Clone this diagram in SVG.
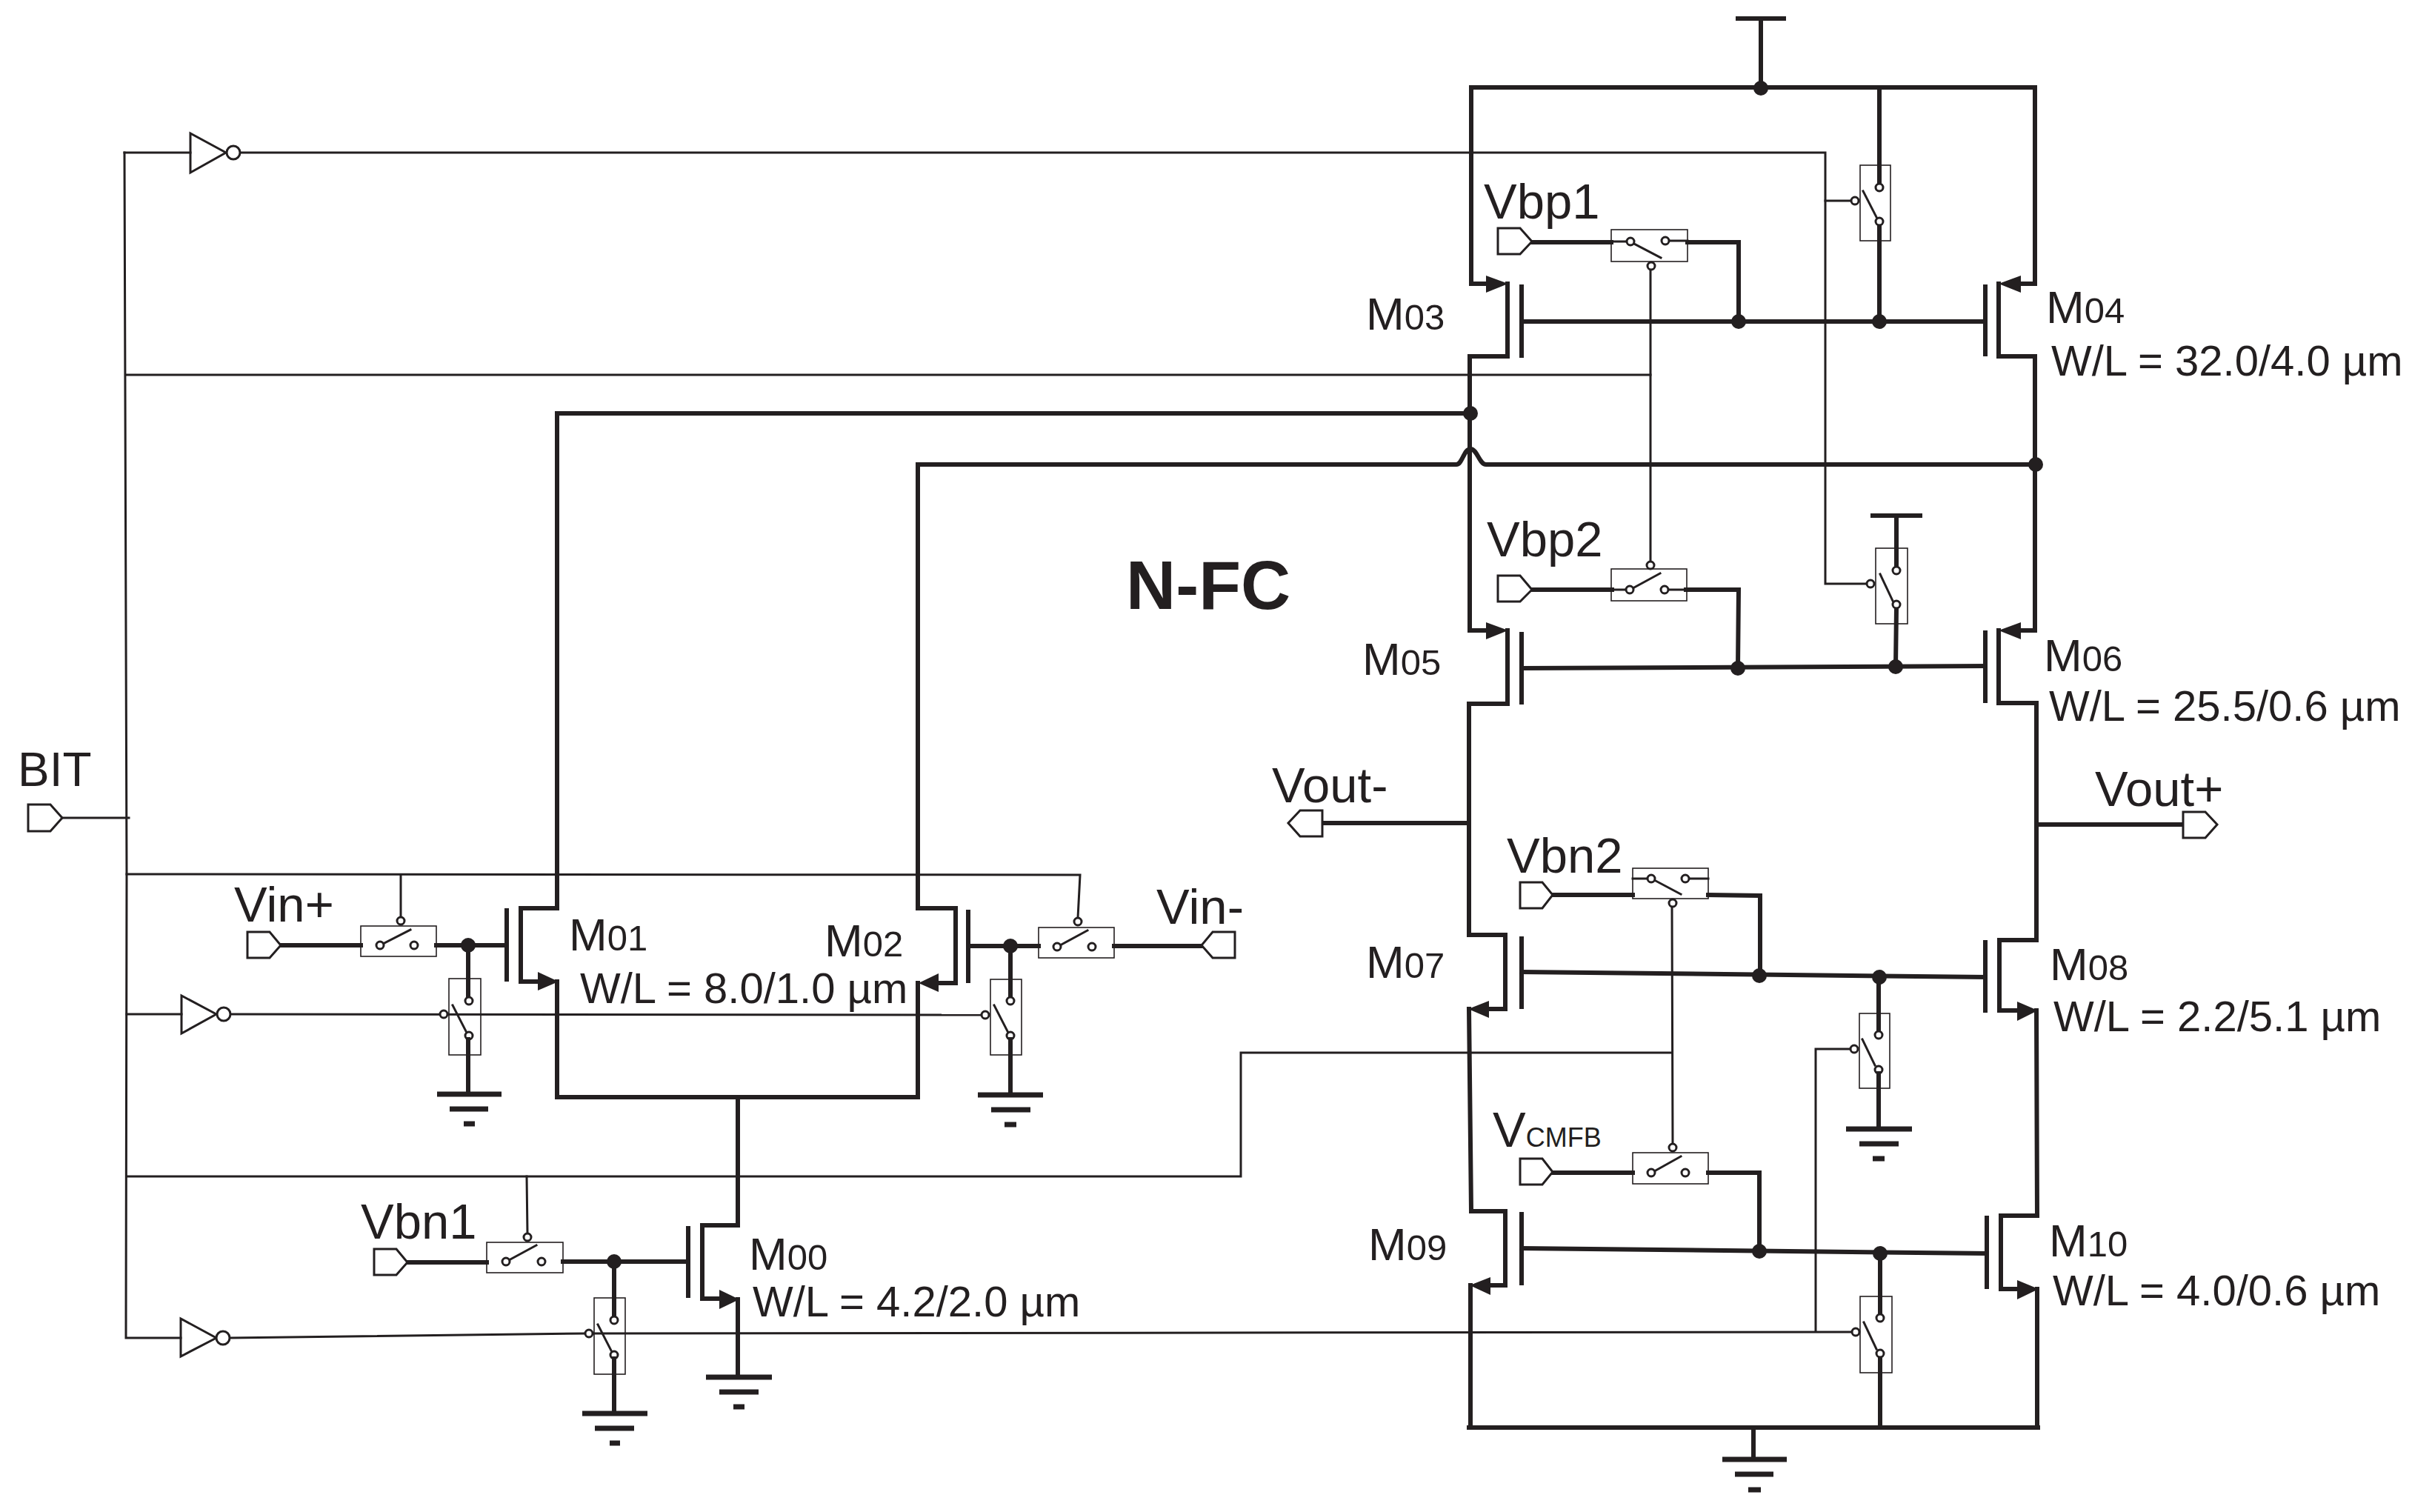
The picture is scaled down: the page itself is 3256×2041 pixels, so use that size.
<svg xmlns="http://www.w3.org/2000/svg" width="3256" height="2041" viewBox="0 0 3256 2041">
<style>
text{font-family:"Liberation Sans",Arial,sans-serif;font-size:62px;fill:#231f20}
.l{font-size:67px}.wl{font-size:58px}.s{font-size:49px}.c{font-size:36px}
.nfc{font-size:93px;font-weight:bold}
.k,.t,.h,.b,.g,.w{fill:none;stroke:#231f20;stroke-linecap:square;stroke-linejoin:miter}
.k{stroke-width:6}.t{stroke-width:3}.h{stroke-width:2}
.b{stroke-width:6;stroke-linecap:butt}
.w{stroke-width:3;fill:#fff}
.g{stroke-width:7;stroke-linecap:butt}
.d{fill:#231f20}
.o{fill:#fff;stroke:#231f20;stroke-width:3}
.a{fill:#231f20}
.x{fill:none;stroke:#231f20;stroke-width:1.6}
</style>
<rect width="3256" height="2041" fill="#fff"/>
<g id="connectors">
<polyline class="t" points="168,206 171,1181 170,1806 244,1806"/>
<polyline class="t" points="168,206 257,206"/>
<polyline class="t" points="84,1104 174,1104"/>
<polyline class="t" points="171,1369 245,1369"/>
<polyline class="t" points="324,206 2464,206 2464,788 2520,788"/>
<polyline class="t" points="2464,271 2499,271"/>
<polyline class="t" points="171,506 2228,506"/>
<polyline class="t" points="2228,364 2228,758"/>
<polyline class="t" points="171,1180 1458,1181 1455,1239"/>
<polyline class="t" points="541,1181 541,1238"/>
<polyline class="t" points="311,1369 1325,1370"/>
<polyline class="t" points="171,1588 1675,1588 1675,1421 2257,1421"/>
<polyline class="t" points="2257,1224 2258,1544"/>
<polyline class="t" points="711,1588 712,1665"/>
<polyline class="t" points="310,1806 790,1800 2500,1798"/>
<polyline class="t" points="2451,1797 2451,1416 2498,1416"/>
<polyline class="k" points="752,1226 752,558 1985,558"/>
<path class="k" d="M1239,1226V627H1966C1974,627 1976,606 1985,606C1994,606 1997,627 2006,627H2748"/>
<polyline class="k" points="1984,481 1984,851"/>
<polyline class="k" points="2747,483 2747,851"/>
<polyline class="k" points="752,1325 752,1481 1239,1481 1239,1327"/>
<polyline class="k" points="996,1481 996,1654"/>
<polyline class="k" points="996,1754 996,1859"/>
<polyline class="k" points="1983,950 1983,1262"/>
<polyline class="k" points="2749,949 2749,1269"/>
<polyline class="k" points="1983,1362 1986,1635"/>
<polyline class="k" points="2749,1364 2750,1641"/>
<polyline class="k" points="1985,1735 1985,1927"/>
<polyline class="k" points="2750,1740 2750,1927"/>
<polyline class="k" points="1986,383 1986,118 2747,118 2747,383"/>
<polyline class="k" points="1983,1927 2751,1927"/>
<polyline class="k" points="1785,1111 1981,1111"/>
<polyline class="k" points="2749,1113 2947,1113"/>
<polyline class="k" points="379,1276 487,1276"/>
<polyline class="k" points="589,1276 684,1276"/>
<polyline class="k" points="632,1276 632,1346"/>
<polyline class="k" points="1307,1277 1402,1277"/>
<polyline class="k" points="1364,1277 1364,1346"/>
<polyline class="k" points="1504,1277 1622,1277"/>
<polyline class="k" points="550,1704 657,1704"/>
<polyline class="k" points="760,1703 929,1703"/>
<polyline class="k" points="829,1703 829,1777"/>
<polyline class="k" points="2068,327 2175,327"/>
<polyline class="k" points="2278,327 2347,327 2347,434"/>
<polyline class="k" points="2054,434 2680,434"/>
<polyline class="k" points="2537,118 2537,248"/>
<polyline class="k" points="2537,304 2537,434"/>
<polyline class="k" points="2068,796 2176,796"/>
<polyline class="k" points="2276,796 2347,796 2346,902"/>
<polyline class="k" points="2054,902 2680,899"/>
<polyline class="k" points="2560,821 2559,900"/>
<polyline class="k" points="2096,1208 2204,1208"/>
<polyline class="k" points="2306,1208 2376,1209 2376,1317"/>
<polyline class="k" points="2054,1312 2680,1319"/>
<polyline class="k" points="2536,1319 2536,1392"/>
<polyline class="k" points="2096,1583 2204,1583"/>
<polyline class="k" points="2306,1583 2375,1583 2375,1689"/>
<polyline class="k" points="2054,1685 2682,1692"/>
<polyline class="k" points="2538,1692 2538,1774"/>
<polyline class="k" points="2538,1832 2538,1927"/>
</g>
<g id="vdd-top"><path class="b" d="M2343,25H2411M2377,25V119"/><circle class="d" cx="2377" cy="119" r="10"/></g>
<g id="vdd-m06"><path class="b" d="M2525,696H2595M2560,696V765"/></g>
<g id="junctions">
<circle class="d" cx="1985" cy="558" r="10"/><circle class="d" cx="2748" cy="627" r="10"/>
<circle class="d" cx="2347" cy="434" r="10"/><circle class="d" cx="2537" cy="434" r="10"/>
<circle class="d" cx="2346" cy="902" r="10"/><circle class="d" cx="2559" cy="900" r="10"/>
<circle class="d" cx="2375" cy="1317" r="10"/><circle class="d" cx="2537" cy="1319" r="10"/>
<circle class="d" cx="2375" cy="1689" r="10"/><circle class="d" cx="2538" cy="1692" r="10"/>
<circle class="d" cx="632" cy="1276" r="10"/><circle class="d" cx="1364" cy="1277" r="10"/><circle class="d" cx="829" cy="1703" r="10"/>
</g>
<g id="inv1"><path class="t" d="M257,180V233L305,206Z"/><circle class="o" cx="315" cy="206" r="9"/></g>
<g id="inv2"><path class="t" d="M245,1344V1395L292,1369Z"/><circle class="o" cx="302" cy="1369" r="9"/></g>
<g id="inv3"><path class="t" d="M244,1780V1831L292,1806Z"/><circle class="o" cx="301" cy="1806" r="9"/></g>
<g id="BIT"><text x="24" y="1061" style="font-size:64px">BIT</text><path class="t" d="M38,1086H68L84,1104L68,1122H38Z"/></g>
<g id="Vin-plus"><text class="l" x="316" y="1244">Vin+</text><path class="w" d="M334,1258H364L379,1276L364,1293H334Z"/></g>
<g id="Vin-minus"><text class="l" x="1561" y="1247">Vin-</text><path class="w" d="M1667,1258H1637L1622,1276L1637,1293H1667Z"/></g>
<g id="Vbn1"><text class="l" x="487" y="1672">Vbn1</text><path class="w" d="M505,1686H535L550,1704L535,1721H505Z"/></g>
<g id="Vbp1"><text class="l" x="2003" y="295">Vbp1</text><path class="w" d="M2022,308H2052L2068,326L2052,343H2022Z"/></g>
<g id="Vbp2"><text class="l" x="2007" y="751">Vbp2</text><path class="w" d="M2022,777H2052L2068,796L2052,812H2022Z"/></g>
<g id="Vbn2"><text class="l" x="2034" y="1178">Vbn2</text><path class="w" d="M2052,1191H2082L2096,1208L2082,1226H2052Z"/></g>
<g id="VCMFB"><text class="l" x="2015" y="1548">V<tspan class="c">CMFB</tspan></text><path class="w" d="M2052,1564H2082L2096,1582L2082,1599H2052Z"/></g>
<g id="Vout-minus"><text class="l" x="1717" y="1083">Vout-</text><path class="w" d="M1785,1094H1755L1739,1111L1755,1129H1785Z"/></g>
<g id="Vout-plus"><text class="l" x="2828" y="1088">Vout+</text><path class="w" d="M2947,1096H2977L2993,1113L2977,1131H2947Z"/></g>
<g id="sw-vinp"><rect class="x" x="487" y="1250" width="102" height="41"/><path class="t" d="M517,1274L554,1255"/><circle class="o" cx="513" cy="1276" r="5"/><circle class="o" cx="559" cy="1276" r="5"/><circle class="o" cx="541" cy="1243" r="5"/></g>
<g id="sw-vinp-gnd"><rect class="x" x="606" y="1321" width="43" height="103"/><path class="t" d="M611,1357L629,1392"/><circle class="o" cx="633" cy="1351" r="5"/><circle class="o" cx="633" cy="1398" r="5"/><circle class="o" cx="599" cy="1369" r="5"/><path class="k" d="M632,1403V1477"/><path class="g" d="M590,1477H677M607,1497H659M626,1517H641"/></g>
<g id="sw-vinm"><rect class="x" x="1402" y="1252" width="102" height="41"/><path class="t" d="M1431,1276L1468,1256"/><circle class="o" cx="1427" cy="1278" r="5"/><circle class="o" cx="1474" cy="1278" r="5"/><circle class="o" cx="1455" cy="1244" r="5"/></g>
<g id="sw-vinm-gnd"><rect class="x" x="1337" y="1322" width="42" height="102"/><path class="t" d="M1342,1357L1360,1392"/><circle class="o" cx="1364" cy="1351" r="5"/><circle class="o" cx="1364" cy="1398" r="5"/><circle class="o" cx="1330" cy="1370" r="5"/><path class="k" d="M1364,1403V1478"/><path class="g" d="M1320,1478H1408M1338,1498H1391M1356,1518H1372"/></g>
<g id="sw-vbn1"><rect class="x" x="657" y="1677" width="103" height="41"/><path class="t" d="M687,1701L724,1681"/><circle class="o" cx="683" cy="1703" r="5"/><circle class="o" cx="731" cy="1703" r="5"/><circle class="o" cx="712" cy="1670" r="5"/></g>
<g id="sw-vbn1-gnd"><rect class="x" x="802" y="1752" width="42" height="103"/><path class="t" d="M807,1788L825,1823"/><circle class="o" cx="829" cy="1782" r="5"/><circle class="o" cx="829" cy="1829" r="5"/><circle class="o" cx="795" cy="1800" r="5"/><path class="k" d="M829,1834V1908"/><path class="g" d="M786,1908H874M803,1928H856M823,1948H837"/></g>
<g id="gnd-m00"><path class="g" d="M953,1859H1042M971,1879H1024M990,1899H1005"/></g>
<g id="sw-vbp1"><rect class="x" x="2175" y="310" width="103" height="43"/><path class="t" d="M2175,326H2196M2253,325H2278M2206,329L2242,348"/><circle class="o" cx="2201" cy="326" r="5"/><circle class="o" cx="2248" cy="325" r="5"/><circle class="o" cx="2229" cy="359" r="5"/></g>
<g id="sw-top"><rect class="x" x="2511" y="223" width="41" height="102"/><path class="t" d="M2515,258L2533,293"/><circle class="o" cx="2537" cy="253" r="5"/><circle class="o" cx="2537" cy="299" r="5"/><circle class="o" cx="2504" cy="271" r="5"/></g>
<g id="sw-vbp2"><rect class="x" x="2175" y="768" width="102" height="43"/><path class="t" d="M2176,796H2195M2252,796H2276M2206,793L2241,774"/><circle class="o" cx="2200" cy="796" r="5"/><circle class="o" cx="2247" cy="796" r="5"/><circle class="o" cx="2228" cy="763" r="5"/></g>
<g id="sw-m06"><rect class="x" x="2532" y="740" width="43" height="102"/><path class="t" d="M2538,775L2555,811"/><circle class="o" cx="2560" cy="770" r="5"/><circle class="o" cx="2560" cy="816" r="5"/><circle class="o" cx="2525" cy="788" r="5"/></g>
<g id="sw-vbn2"><rect class="x" x="2204" y="1172" width="102" height="41"/><path class="t" d="M2204,1186H2224M2280,1186H2306M2235,1189L2269,1207"/><circle class="o" cx="2229" cy="1186" r="5"/><circle class="o" cx="2275" cy="1186" r="5"/><circle class="o" cx="2258" cy="1219" r="5"/></g>
<g id="sw-vcmfb"><rect class="x" x="2204" y="1556" width="102" height="42"/><path class="t" d="M2235,1580L2269,1561"/><circle class="o" cx="2229" cy="1583" r="5"/><circle class="o" cx="2275" cy="1583" r="5"/><circle class="o" cx="2258" cy="1549" r="5"/></g>
<g id="sw-m08"><rect class="x" x="2510" y="1368" width="41" height="101"/><path class="t" d="M2514,1403L2531,1438"/><circle class="o" cx="2536" cy="1397" r="5"/><circle class="o" cx="2536" cy="1444" r="5"/><circle class="o" cx="2503" cy="1416" r="5"/><path class="k" d="M2536,1449V1524"/><path class="g" d="M2492,1524H2581M2510,1544H2563M2528,1564H2544"/></g>
<g id="sw-m10"><rect class="x" x="2511" y="1750" width="43" height="103"/><path class="t" d="M2516,1785L2533,1821"/><circle class="o" cx="2538" cy="1779" r="5"/><circle class="o" cx="2538" cy="1827" r="5"/><circle class="o" cx="2505" cy="1798" r="5"/></g>
<g id="gnd-main"><path class="k" d="M2367,1927V1970"/><path class="g" d="M2325,1970H2412M2342,1990H2394M2360,2011H2377"/></g>
<g id="M00"><path class="k" d="M996,1654H948V1753H975"/><path class="b" d="M929,1655V1752"/><path class="a" d="M998,1754L971,1741V1767Z"/><text x="1011" y="1714">M<tspan class="s">00</tspan></text><text class="wl" x="1016" y="1777">W/L = 4.2/2.0 µm</text></g>
<g id="M01"><path class="k" d="M752,1226H703V1325H730"/><path class="b" d="M684,1226V1325"/><path class="a" d="M754,1325L726,1312V1337Z"/><text x="768" y="1283">M<tspan class="s">01</tspan></text><text class="wl" x="783" y="1354">W/L = 8.0/1.0 µm</text></g>
<g id="M02"><path class="k" d="M1239,1226H1290V1327H1262"/><path class="b" d="M1307,1228V1327"/><path class="a" d="M1240,1327L1267,1314V1339Z"/><text x="1113" y="1291">M<tspan class="s">02</tspan></text></g>
<g id="M03"><path class="k" d="M1986,383H2010M2035,383V481H1984"/><path class="b" d="M2054,384V483"/><path class="a" d="M2036,383L2006,372V395Z"/><text x="1844" y="445">M<tspan class="s">03</tspan></text></g>
<g id="M04"><path class="k" d="M2747,383H2725M2698,383V481H2747"/><path class="b" d="M2680,384V481"/><path class="a" d="M2698,383L2728,372V395Z"/><text x="2762" y="436">M<tspan class="s">04</tspan></text><text class="wl" x="2769" y="507">W/L = 32.0/4.0 µm</text></g>
<g id="M05"><path class="k" d="M1984,851H2010M2035,851V950H1983"/><path class="b" d="M2054,853V951"/><path class="a" d="M2036,851L2006,840V863Z"/><text x="1839" y="911">M<tspan class="s">05</tspan></text></g>
<g id="M06"><path class="k" d="M2747,851H2725M2698,851V949H2749"/><path class="b" d="M2680,851V949"/><path class="a" d="M2698,851L2728,840V863Z"/><text x="2759" y="906">M<tspan class="s">06</tspan></text><text class="wl" x="2766" y="973">W/L = 25.5/0.6 µm</text></g>
<g id="M07"><path class="k" d="M1983,1262H2032V1362H2005"/><path class="b" d="M2054,1264V1362"/><path class="a" d="M1982,1362L2010,1351V1374Z"/><text x="1844" y="1320">M<tspan class="s">07</tspan></text></g>
<g id="M08"><path class="k" d="M2749,1269H2699V1364H2725"/><path class="b" d="M2680,1269V1367"/><path class="a" d="M2751,1364L2723,1352V1378Z"/><text x="2767" y="1323">M<tspan class="s">08</tspan></text><text class="wl" x="2772" y="1392">W/L = 2.2/5.1 µm</text></g>
<g id="M09"><path class="k" d="M1986,1635H2032V1735H2005"/><path class="b" d="M2054,1636V1735"/><path class="a" d="M1984,1735L2012,1724V1748Z"/><text x="1847" y="1701">M<tspan class="s">09</tspan></text></g>
<g id="M10"><path class="k" d="M2750,1641H2701V1740H2725"/><path class="b" d="M2682,1641V1740"/><path class="a" d="M2752,1740L2723,1728V1754Z"/><text x="2766" y="1696">M<tspan class="s">10</tspan></text><text class="wl" x="2771" y="1762">W/L = 4.0/0.6 µm</text></g>
<text id="N-FC" class="nfc" x="1520" y="822">N-FC</text>
</svg>
